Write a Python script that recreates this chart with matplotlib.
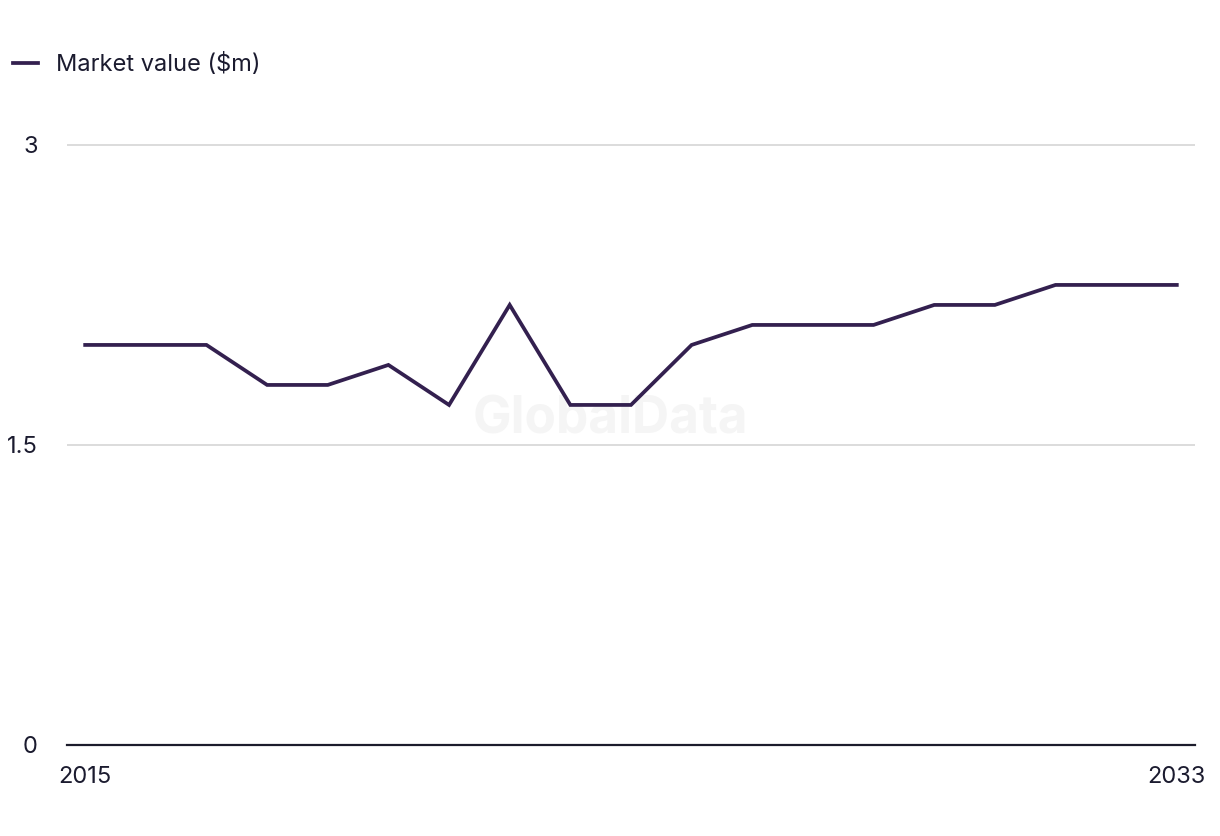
import numpy as np
import matplotlib.pyplot as plt

fontsize = 17
text_color = "#1b1b2f"
line_color = "#33204f"

years = np.arange(2015, 2034)
market_value = [2.0, 2.0, 2.0, 1.8, 1.8, 1.9, 1.7, 2.2, 1.7, 1.7,
                2.0, 2.1, 2.1, 2.1, 2.2, 2.2, 2.3, 2.3, 2.3]
y_ticks = [0, 1.5, 3]
y_tick_labels = ["0", "1.5", "3"]

plt.rcParams['font.family'] = ['Inter', 'DejaVu Sans']

fig = plt.figure(figsize=(12.2, 8.36), dpi=100)
ax = fig.add_axes([0.0549, 0.1089, 0.9246, 0.7297])

ax.plot(years, market_value, color=line_color, linewidth=2.7,
        label="Market value ($m)", solid_joinstyle='miter')

ax.set_xlim(2014.7, 2033.3)
ax.set_ylim(0, 3.05)
ax.set_yticks(y_ticks)
ax.set_yticklabels(y_tick_labels)
ax.set_xticks([2015, 2033])
ax.set_xticklabels(["2015", "2033"])
ax.tick_params(axis='both', length=0, labelsize=fontsize, colors=text_color)
ax.tick_params(axis='y', pad=21)
ax.tick_params(axis='x', pad=15)

ax.grid(axis='y', color='#d9d9d9', linewidth=1.3)
ax.set_axisbelow(True)
for side in ['top', 'right', 'left']:
    ax.spines[side].set_visible(False)
ax.spines['bottom'].set_color('#1c1c2c')
ax.spines['bottom'].set_linewidth(1.6)

# faint watermark behind the line
ax.text(0.482, 0.533, "GlobalData", transform=ax.transAxes, ha='center',
        va='center', fontsize=37, fontweight='bold', color='#f5f5f5',
        zorder=0)

fig.legend(loc='upper left', bbox_to_anchor=(-0.007, 0.962), frameon=False,
           fontsize=fontsize, handlelength=1.05, handletextpad=0.8,
           labelcolor=text_color)

fig.savefig("out.png", dpi=100)
